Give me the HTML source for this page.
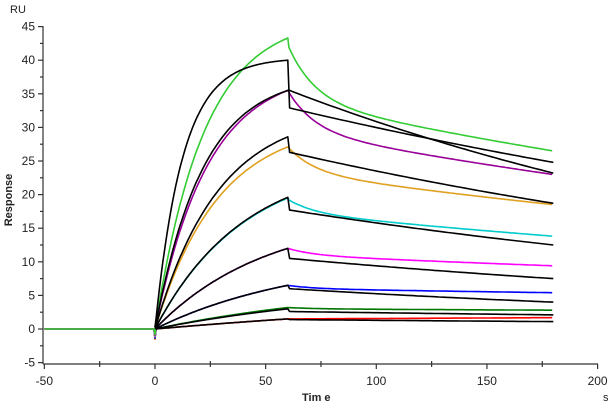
<!DOCTYPE html>
<html><head><meta charset="utf-8"><style>
html,body{margin:0;padding:0;background:#fff;width:611px;height:407px;overflow:hidden}
svg{display:block;font-family:"Liberation Sans",Arial,sans-serif}
</style></head><body>
<svg id="s" width="611" height="407" viewBox="0 0 611 407" xmlns="http://www.w3.org/2000/svg">
<g font-size="11" fill="#222">
<text x="10" y="13" font-size="11">RU</text>
<text x="302" y="401" font-weight="bold" font-size="11">Tim e</text>
<text x="603" y="401" font-size="11">s</text>
<text transform="translate(12,200) rotate(-90)" text-anchor="middle" font-weight="bold" font-size="11">Response</text>
</g>
<g id="ax" stroke="#333" stroke-width="1.2" fill="none"></g>
<g id="lab" font-size="12" fill="#222"></g>
<g id="cur" fill="none" stroke-width="1.6" stroke-linejoin="round"></g>
</svg>
<script>
var NS="http://www.w3.org/2000/svg";
function X(t){return 155+t*2.213}
function Y(v){return 329-v*6.72}
function el(p,tag,a,txt){var e=document.createElementNS(NS,tag);for(var k in a)e.setAttribute(k,a[k]);if(txt!=null)e.textContent=txt;document.getElementById(p).appendChild(e);return e}
el("ax","line",{x1:43,y1:26,x2:43,y2:364});
el("ax","line",{x1:43,y1:364,x2:598,y2:364});
for(var v=-5;v<=45;v+=5){var y=Y(v);el("ax","line",{x1:38,y1:y,x2:43,y2:y});
 el("lab","text",{x:35,y:y+4,"text-anchor":"end"},String(v));
 if(v<45){var y2=Y(v+2.5);el("ax","line",{x1:40,y1:y2,x2:43,y2:y2});}}
for(var t=-50;t<=200;t+=50){var x=X(t);el("ax","line",{x1:x,y1:364,x2:x,y2:369});
 el("lab","text",{x:x,y:385,"text-anchor":"middle"},String(t));
 if(t<200){var x2=X(t+25);el("ax","line",{x1:x2,y1:361,x2:x2,y2:367});}}
var C=[
 ["#33cc33",43.3,0.045,8.3,34,0.00208],
 ["#990099",35.5,0.042,6,29.5,0.00208],
 ["#e0a020",27.1,0.035,3.8,23.3,0.00192],
 ["#00cccc",19.5,0.025,2,17.3,0.00188],
 ["#ff00ff",12,0.02,1,11,0.00131],
 ["#0000ff",6.5,0.015,0.5,6,0.00088],
 ["#007700",3.2,0.01,0.2,3,0.00058],
 ["#ff0000",1.5,0.005,0,1.5,-0.001]];
C.slice().reverse().forEach(function(c,i){
 var d="M"+X(-50)+","+Y(0)+" L"+X(-0.5)+","+Y(0)+" L"+X(0)+","+Y(-1.5+i*0.1);
 for(var t=0.5;t<=60;t+=0.5){var v=c[1]*(1-Math.exp(-c[2]*t))/(1-Math.exp(-60*c[2]));d+=" L"+X(t).toFixed(1)+","+Y(v).toFixed(1);}
 for(var tp=0.5;tp<=120;tp+=1){var v=c[3]*Math.exp(-tp/12)+c[4]*Math.exp(-c[5]*tp);d+=" L"+X(60+tp).toFixed(1)+","+Y(v).toFixed(1);}
 el("cur","path",{d:d,stroke:c[0]});
});
var B=[[40,0.08,32.9,24.8],[35.5,0.046,35.5,23.2],[28.6,0.035,26.3,18.7],[19.6,0.025,17.7,12.5],[12,0.02,10.5,7.5],[6.5,0.015,6,4],[3,0.01,2.6,2.1],[1.5,0.005,1.4,1.1]];
B.forEach(function(b){
 var d="M"+X(0)+","+Y(0.3);
 for(var t=0.5;t<=60;t+=0.5){var v=b[0]*(1-Math.exp(-b[1]*t))/(1-Math.exp(-60*b[1]));d+=" L"+X(t).toFixed(1)+","+Y(v).toFixed(1);}
 var k=Math.log(b[2]/b[3])/120;
 d+=" L"+X(60.8).toFixed(1)+","+Y(b[2]).toFixed(1);
 for(var tp=2;tp<=120;tp+=2){d+=" L"+X(60.8+tp*0.993).toFixed(1)+","+Y(b[2]*Math.exp(-k*tp)).toFixed(1);}
 el("cur","path",{d:d,stroke:"#000"});
});
</script>
</body></html>
